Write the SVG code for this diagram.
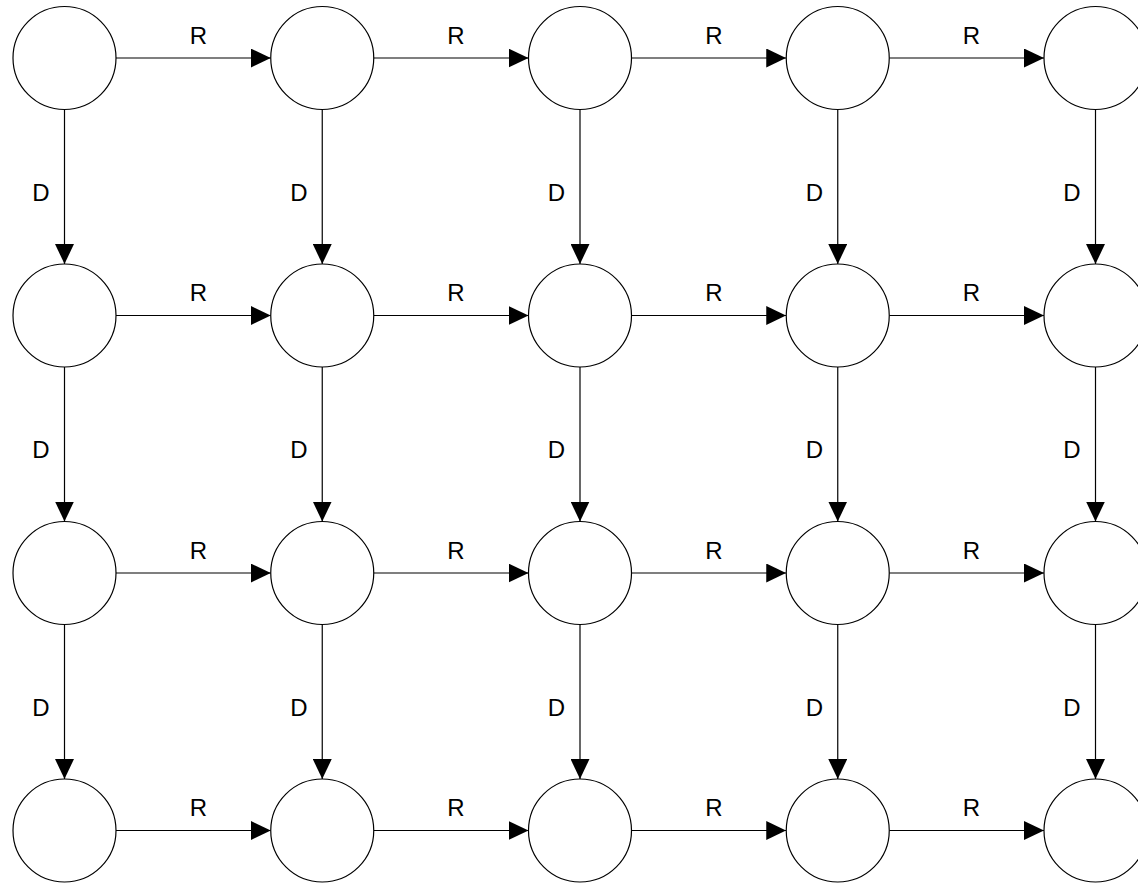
<svg xmlns="http://www.w3.org/2000/svg" width="1138" height="884" viewBox="0 0 1138 884">
<style>
.n{fill:#fff;stroke:#000;stroke-width:1.2}
.e{stroke:#000;stroke-width:1.2;fill:none;marker-end:url(#ah)}
.l{font-family:"Liberation Sans",Arial,sans-serif;font-size:24px;fill:#000;text-anchor:middle}
</style>
<defs>
<marker id="ah" markerUnits="userSpaceOnUse" viewBox="0 0 20 19" markerWidth="20" markerHeight="19" refX="20" refY="9.5" orient="auto">
<path d="M0,0 L20,9.5 L0,19 Z" fill="#000"/>
</marker>
</defs>
<g id="connectors">
<line class="e" x1="116" y1="58" x2="270.75" y2="58"/>
<line class="e" x1="373.75" y1="58" x2="528.5" y2="58"/>
<line class="e" x1="631.5" y1="58" x2="786.25" y2="58"/>
<line class="e" x1="889.25" y1="58" x2="1044" y2="58"/>
<line class="e" x1="116" y1="315.5" x2="270.75" y2="315.5"/>
<line class="e" x1="373.75" y1="315.5" x2="528.5" y2="315.5"/>
<line class="e" x1="631.5" y1="315.5" x2="786.25" y2="315.5"/>
<line class="e" x1="889.25" y1="315.5" x2="1044" y2="315.5"/>
<line class="e" x1="116" y1="573" x2="270.75" y2="573"/>
<line class="e" x1="373.75" y1="573" x2="528.5" y2="573"/>
<line class="e" x1="631.5" y1="573" x2="786.25" y2="573"/>
<line class="e" x1="889.25" y1="573" x2="1044" y2="573"/>
<line class="e" x1="116" y1="830.5" x2="270.75" y2="830.5"/>
<line class="e" x1="373.75" y1="830.5" x2="528.5" y2="830.5"/>
<line class="e" x1="631.5" y1="830.5" x2="786.25" y2="830.5"/>
<line class="e" x1="889.25" y1="830.5" x2="1044" y2="830.5"/>
<line class="e" x1="64.5" y1="109.5" x2="64.5" y2="264"/>
<line class="e" x1="322.25" y1="109.5" x2="322.25" y2="264"/>
<line class="e" x1="580" y1="109.5" x2="580" y2="264"/>
<line class="e" x1="837.75" y1="109.5" x2="837.75" y2="264"/>
<line class="e" x1="1095.5" y1="109.5" x2="1095.5" y2="264"/>
<line class="e" x1="64.5" y1="367" x2="64.5" y2="521.5"/>
<line class="e" x1="322.25" y1="367" x2="322.25" y2="521.5"/>
<line class="e" x1="580" y1="367" x2="580" y2="521.5"/>
<line class="e" x1="837.75" y1="367" x2="837.75" y2="521.5"/>
<line class="e" x1="1095.5" y1="367" x2="1095.5" y2="521.5"/>
<line class="e" x1="64.5" y1="624.5" x2="64.5" y2="779"/>
<line class="e" x1="322.25" y1="624.5" x2="322.25" y2="779"/>
<line class="e" x1="580" y1="624.5" x2="580" y2="779"/>
<line class="e" x1="837.75" y1="624.5" x2="837.75" y2="779"/>
<line class="e" x1="1095.5" y1="624.5" x2="1095.5" y2="779"/>
</g>
<g id="labels">
<text class="l" x="198.3" y="43.5">R</text>
<text class="l" x="456" y="43.5">R</text>
<text class="l" x="713.8" y="43.5">R</text>
<text class="l" x="971.5" y="43.5">R</text>
<text class="l" x="198.3" y="301">R</text>
<text class="l" x="456" y="301">R</text>
<text class="l" x="713.8" y="301">R</text>
<text class="l" x="971.5" y="301">R</text>
<text class="l" x="198.3" y="558.5">R</text>
<text class="l" x="456" y="558.5">R</text>
<text class="l" x="713.8" y="558.5">R</text>
<text class="l" x="971.5" y="558.5">R</text>
<text class="l" x="198.3" y="816">R</text>
<text class="l" x="456" y="816">R</text>
<text class="l" x="713.8" y="816">R</text>
<text class="l" x="971.5" y="816">R</text>
<text class="l" x="41" y="200.5">D</text>
<text class="l" x="298.8" y="200.5">D</text>
<text class="l" x="556.5" y="200.5">D</text>
<text class="l" x="814.3" y="200.5">D</text>
<text class="l" x="1072" y="200.5">D</text>
<text class="l" x="41" y="458">D</text>
<text class="l" x="298.8" y="458">D</text>
<text class="l" x="556.5" y="458">D</text>
<text class="l" x="814.3" y="458">D</text>
<text class="l" x="1072" y="458">D</text>
<text class="l" x="41" y="715.5">D</text>
<text class="l" x="298.8" y="715.5">D</text>
<text class="l" x="556.5" y="715.5">D</text>
<text class="l" x="814.3" y="715.5">D</text>
<text class="l" x="1072" y="715.5">D</text>
</g>
<g id="n00"><circle class="n" cx="64.5" cy="58" r="51.5"/></g>
<g id="n01"><circle class="n" cx="322.25" cy="58" r="51.5"/></g>
<g id="n02"><circle class="n" cx="580" cy="58" r="51.5"/></g>
<g id="n03"><circle class="n" cx="837.75" cy="58" r="51.5"/></g>
<g id="n04"><circle class="n" cx="1095.5" cy="58" r="51.5"/></g>
<g id="n10"><circle class="n" cx="64.5" cy="315.5" r="51.5"/></g>
<g id="n11"><circle class="n" cx="322.25" cy="315.5" r="51.5"/></g>
<g id="n12"><circle class="n" cx="580" cy="315.5" r="51.5"/></g>
<g id="n13"><circle class="n" cx="837.75" cy="315.5" r="51.5"/></g>
<g id="n14"><circle class="n" cx="1095.5" cy="315.5" r="51.5"/></g>
<g id="n20"><circle class="n" cx="64.5" cy="573" r="51.5"/></g>
<g id="n21"><circle class="n" cx="322.25" cy="573" r="51.5"/></g>
<g id="n22"><circle class="n" cx="580" cy="573" r="51.5"/></g>
<g id="n23"><circle class="n" cx="837.75" cy="573" r="51.5"/></g>
<g id="n24"><circle class="n" cx="1095.5" cy="573" r="51.5"/></g>
<g id="n30"><circle class="n" cx="64.5" cy="830.5" r="51.5"/></g>
<g id="n31"><circle class="n" cx="322.25" cy="830.5" r="51.5"/></g>
<g id="n32"><circle class="n" cx="580" cy="830.5" r="51.5"/></g>
<g id="n33"><circle class="n" cx="837.75" cy="830.5" r="51.5"/></g>
<g id="n34"><circle class="n" cx="1095.5" cy="830.5" r="51.5"/></g>
</svg>
